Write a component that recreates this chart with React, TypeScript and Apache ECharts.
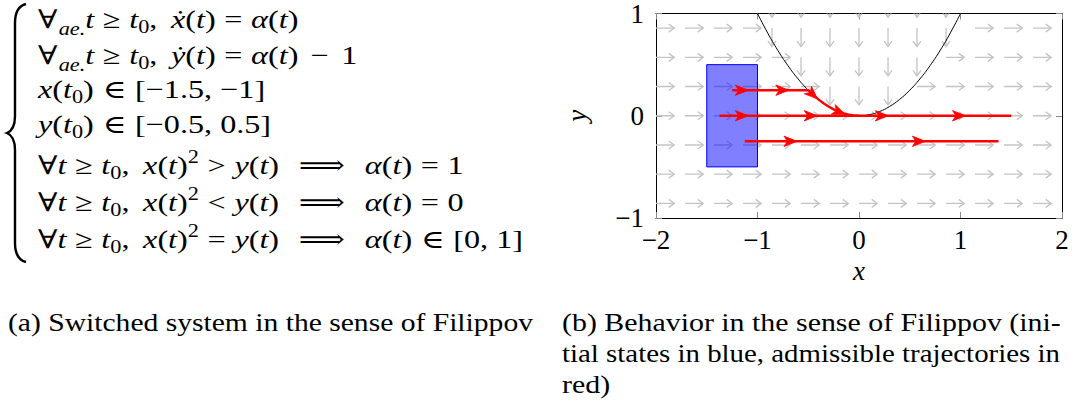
import React, { useEffect, useRef } from "react";
import * as echarts from "echarts";

const FONT = "Liberation Serif, DejaVu Serif, serif";

// ---- plot data ----
const xRange = [-2, 2];
const yRange = [-1, 1];
const fieldColumnX = [-2, -1.714, -1.429, -1.143, -0.857, -0.571, -0.286, 0, 0.286, 0.571, 0.857, 1.143, 1.429, 1.714];
const fieldRowY = [1.143, 0.857, 0.571, 0.286, 0, -0.286, -0.571, -0.857];
const fieldRowDirs = [
  "RRRRDDDDDDDRRR",
  "RRRRDDDDDDDRRR",
  "RRRRRDDDDDRRRR",
  "RRRRRRDDDRRRRR",
  "RRRRRRRRRRRRRR",
  "RRRRRRRRRRRRRR",
  "RRRRRRRRRRRRRR",
  "RRRRRRRRRRRRRR",
];
const fieldArrowLength = 0.18;
const parabolaX = [-1, -0.9, -0.8, -0.7, -0.6, -0.5, -0.4, -0.3, -0.2, -0.1, 0, 0.1, 0.2, 0.3, 0.4, 0.5, 0.6, 0.7, 0.8, 0.9, 1];
const parabolaY = [1, 0.81, 0.64, 0.49, 0.36, 0.25, 0.16, 0.09, 0.04, 0.01, 0, 0.01, 0.04, 0.09, 0.16, 0.25, 0.36, 0.49, 0.64, 0.81, 1];
const initialBox = [-1.5, -0.5, -1, 0.5]; // xmin, ymin, xmax, ymax
const trajSliding = [[-1.25, 0.25], [-0.5, 0.25], [-0.45, 0.2025], [-0.4, 0.16], [-0.35, 0.1225], [-0.3, 0.09], [-0.25, 0.0625], [-0.2, 0.04], [-0.15, 0.0225], [-0.1, 0.01], [-0.05, 0.0025], [0, 0]];
const trajZero = [[-1.375, 0], [1.5, 0]];
const trajLow = [[-1.125, -0.25], [1.375, -0.25]];
// arrow heads: x, y, dx, dy
const redArrowHeads = [
  [-1.16, 0.25, 1, 0], [-0.76, 0.25, 1, 0], [-0.46, 0.2116, 1, -0.92], [-0.2, 0.04, 1, -0.4],
  [-1.16, 0, 1, 0], [-0.48, 0, 1, 0], [0.22, 0, 1, 0], [0.98, 0, 1, 0],
  [-0.68, -0.25, 1, 0], [0.585, -0.25, 1, 0],
];

// ---- text ----
const mathLines: string[][][] = [
  [["r", "∀"], ["sd", "ae."], ["i", "t"], ["rel", "≥"], ["i", "t"], ["s", "0"], ["cm", ","], ["i", "ẋ"], ["r", "("], ["i", "t"], ["r", ")"], ["rel", "="], ["i", "α"], ["r", "("], ["i", "t"], ["r", ")"]],
  [["r", "∀"], ["sd", "ae."], ["i", "t"], ["rel", "≥"], ["i", "t"], ["s", "0"], ["cm", ","], ["i", "ẏ"], ["r", "("], ["i", "t"], ["r", ")"], ["rel", "="], ["i", "α"], ["r", "("], ["i", "t"], ["r", ")"], ["bin", "−"], ["r", "1"]],
  [["i", "x"], ["r", "("], ["i", "t"], ["s", "0"], ["r", ")"], ["rel", "∈"], ["r", "[−1.5, −1]"]],
  [["i", "y"], ["r", "("], ["i", "t"], ["s", "0"], ["r", ")"], ["rel", "∈"], ["r", "[−0.5, 0.5]"]],
  [["r", "∀"], ["i", "t"], ["rel", "≥"], ["i", "t"], ["s", "0"], ["cm", ","], ["i", "x"], ["r", "("], ["i", "t"], ["r", ")"], ["p", "2"], ["rel", ">"], ["i", "y"], ["r", "("], ["i", "t"], ["r", ")"], ["imp", "⟹"], ["i", "α"], ["r", "("], ["i", "t"], ["r", ")"], ["rel", "="], ["r", "1"]],
  [["r", "∀"], ["i", "t"], ["rel", "≥"], ["i", "t"], ["s", "0"], ["cm", ","], ["i", "x"], ["r", "("], ["i", "t"], ["r", ")"], ["p", "2"], ["rel", "<"], ["i", "y"], ["r", "("], ["i", "t"], ["r", ")"], ["imp", "⟹"], ["i", "α"], ["r", "("], ["i", "t"], ["r", ")"], ["rel", "="], ["r", "0"]],
  [["r", "∀"], ["i", "t"], ["rel", "≥"], ["i", "t"], ["s", "0"], ["cm", ","], ["i", "x"], ["r", "("], ["i", "t"], ["r", ")"], ["p", "2"], ["rel", "="], ["i", "y"], ["r", "("], ["i", "t"], ["r", ")"], ["imp", "⟹"], ["i", "α"], ["r", "("], ["i", "t"], ["r", ")"], ["rel", "∈"], ["r", "[0, 1]"]],
];
const mathBaselines = [28, 64, 98, 133, 174, 211, 248];
const captionA = "(a) Switched system in the sense of Filippov";
const captionB = ["(b) Behavior in the sense of Filippov (ini-", "tial states in blue, admissible trajectories in", "red)"];

const BRACE_D = "M19 0 C11 2 8 8 8 19 L8 112 C8 122 5 127 0 129 C5 131 8 136 8 146 L8 239 C8 250 11 256 19 258";

const MS = 26; // math font size
const SS = 18; // script size
const richStyles: any = {
  r: { fontFamily: FONT, fontSize: MS, lineHeight: 40, verticalAlign: "top", padding: [5, 0, 0, 0], color: "#000" },
  i: { fontFamily: FONT, fontSize: MS, fontStyle: "italic", lineHeight: 40, verticalAlign: "top", padding: [5, 0, 0, 0], color: "#000" },
  rel: { fontFamily: FONT, fontSize: MS, lineHeight: 40, verticalAlign: "top", padding: [5, 7, 0, 7], color: "#000" },
  bin: { fontFamily: FONT, fontSize: MS, lineHeight: 40, verticalAlign: "top", padding: [5, 10, 0, 10], color: "#000" },
  imp: { fontFamily: FONT, fontSize: MS, lineHeight: 40, verticalAlign: "top", padding: [5, 16, 0, 16], color: "#000" },
  cm: { fontFamily: FONT, fontSize: MS, lineHeight: 40, verticalAlign: "top", padding: [5, 11, 0, 0], color: "#000" },
  s: { fontFamily: FONT, fontSize: SS, lineHeight: 40, verticalAlign: "top", padding: [17, 0, 0, 0], color: "#000" },
  p: { fontFamily: FONT, fontSize: SS, lineHeight: 40, verticalAlign: "top", padding: [1, 0, 0, 0], color: "#000" },
  sd: { fontFamily: FONT, fontSize: SS, fontStyle: "italic", lineHeight: 40, verticalAlign: "top", padding: [19, 0, 0, 1], color: "#000" },
};

const GREY = "#c4c4c4";

const ctx = typeof document !== "undefined" ? document.createElement("canvas").getContext("2d") : null;
function measure(text: string, font: string) {
  if (!ctx) return 1;
  ctx.font = font;
  return ctx.measureText(text).width;
}
function richWidth(line: string[][]) {
  let w = 0;
  for (const [s, t] of line) {
    const st = richStyles[s];
    const f = `${st.fontStyle === "italic" ? "italic " : ""}${st.fontSize}px ${FONT}`;
    w += measure(t, f) + (st.padding[1] || 0) + (st.padding[3] || 0);
  }
  return w;
}

export default function App() {
  const ref = useRef<HTMLDivElement>(null);
  useEffect(() => {
    if (!ref.current) return;
    echarts.graphic.registerShape("brace", (echarts.graphic as any).extendPath(BRACE_D, {}));
    const chart = echarts.init(ref.current, undefined, { renderer: "svg" });

    const fieldData: number[][] = [];
    fieldRowY.forEach((y, r) => {
      fieldColumnX.forEach((x, c) => {
        fieldData.push([x, y, fieldRowDirs[r][c] === "D" ? 1 : 0]);
      });
    });
    const parabola = parabolaX.map((x, i) => [x, parabolaY[i]]);

    const capFont = `26px ${FONT}`;
    const capAw = measure(captionA, capFont);
    const capB0 = measure(captionB[0], capFont);
    const capB1 = measure(captionB[1], capFont);
    const mathScale = 485 / richWidth(mathLines[6]);

    const graphics: any[] = [
      { type: "brace", x: 7, y: 4, style: { fill: "none", stroke: "#000", lineWidth: 2.4 } },
    ];
    mathLines.forEach((line, k) => {
      graphics.push({
        type: "text",
        x: 38,
        y: mathBaselines[k] - 26.8,
        scaleX: mathScale,
        style: {
          text: line.map(([s, t]) => `{${s}|${t}}`).join(""),
          rich: richStyles,
          align: "left",
          verticalAlign: "top",
          fill: "#000",
        },
      });
    });
    graphics.push({
      type: "text", x: 8, y: 322, scaleX: 525 / capAw,
      style: { text: captionA, font: capFont, fill: "#000", align: "left", verticalAlign: "middle" },
    });
    graphics.push({
      type: "text", x: 562, y: 322, scaleX: 499 / capB0,
      style: { text: captionB[0], font: capFont, fill: "#000", align: "left", verticalAlign: "middle" },
    });
    graphics.push({
      type: "text", x: 562, y: 353, scaleX: 498 / capB1,
      style: { text: captionB[1], font: capFont, fill: "#000", align: "left", verticalAlign: "middle" },
    });
    graphics.push({
      type: "text", x: 562, y: 384, scaleX: 499 / capB0,
      style: { text: captionB[2], font: capFont, fill: "#000", align: "left", verticalAlign: "middle" },
    });

    const minus = (v: number) => (v < 0 ? "\u2212" + Math.abs(v) : String(v));
    const tickStyle = { show: true, inside: true, length: 6, lineStyle: { color: "#8a8a8a", width: 1 } };
    const lineStyle = { show: true, onZero: false, lineStyle: { color: "#000", width: 1 } };
    const labelStyle = { fontFamily: FONT, fontSize: 27, color: "#000" };

    chart.setOption({
      animation: false,
      grid: { left: 656, right: 28, top: 13, bottom: 185, containLabel: false },
      xAxis: [
        {
          type: "value", min: xRange[0], max: xRange[1], interval: 1, position: "bottom",
          axisLine: lineStyle, axisTick: tickStyle, splitLine: { show: false },
          axisLabel: { ...labelStyle, margin: 8, formatter: minus },
          name: "x", nameLocation: "middle", nameGap: 36,
          nameTextStyle: { fontFamily: FONT, fontSize: 27, fontStyle: "italic", color: "#000" },
        },
        {
          type: "value", min: xRange[0], max: xRange[1], interval: 1, position: "top",
          axisLine: lineStyle, axisTick: tickStyle, splitLine: { show: false }, axisLabel: { show: false },
        },
      ],
      yAxis: [
        {
          type: "value", min: yRange[0], max: yRange[1], interval: 1, position: "left",
          axisLine: lineStyle, axisTick: tickStyle, splitLine: { show: false },
          axisLabel: { ...labelStyle, margin: 12, formatter: minus },
          name: "y", nameLocation: "middle", nameGap: 66, nameRotate: 90,
          nameTextStyle: { fontFamily: FONT, fontSize: 27, fontStyle: "italic", color: "#000" },
        },
        {
          type: "value", min: yRange[0], max: yRange[1], interval: 1, position: "right",
          axisLine: lineStyle, axisTick: tickStyle, splitLine: { show: false }, axisLabel: { show: false },
        },
      ],
      graphic: { elements: graphics },
      series: [
        {
          type: "custom", name: "field", coordinateSystem: "cartesian2d", xAxisIndex: 0, yAxisIndex: 0,
          clip: true, silent: true, z: 1, data: fieldData,
          renderItem: (params: any, api: any) => {
            const x = api.value(0), y = api.value(1), d = api.value(2);
            const p0 = api.coord([x, y]);
            const p1 = d === 1 ? api.coord([x, y - fieldArrowLength]) : api.coord([x + fieldArrowLength, y]);
            const dx = p1[0] - p0[0], dy = p1[1] - p0[1];
            const len = Math.hypot(dx, dy);
            const ux = dx / len, uy = dy / len, nx = -uy, ny = ux;
            const h = 5.5, w = 4;
            return {
              type: "group",
              children: [
                { type: "line", shape: { x1: p0[0], y1: p0[1], x2: p1[0] - ux * 0.5, y2: p1[1] - uy * 0.5 }, style: { stroke: GREY, lineWidth: 1.3 } },
                {
                  type: "polyline",
                  shape: { points: [[p1[0] - ux * h + nx * w, p1[1] - uy * h + ny * w], [p1[0], p1[1]], [p1[0] - ux * h - nx * w, p1[1] - uy * h - ny * w]] },
                  style: { stroke: GREY, fill: "none", lineWidth: 1.3 },
                },
              ],
            };
          },
        },
        {
          type: "line", name: "parabola", data: parabola, smooth: true, showSymbol: false, symbol: "none",
          lineStyle: { color: "#000", width: 1 }, clip: true, silent: true, z: 2,
        },
        {
          type: "custom", name: "initial", coordinateSystem: "cartesian2d", silent: true, z: 3,
          data: [initialBox],
          renderItem: (params: any, api: any) => {
            const a = api.coord([api.value(0), api.value(1)]);
            const b = api.coord([api.value(2), api.value(3)]);
            return {
              type: "rect",
              shape: { x: Math.min(a[0], b[0]), y: Math.min(a[1], b[1]), width: Math.abs(b[0] - a[0]), height: Math.abs(b[1] - a[1]) },
              style: { fill: "rgba(0,0,255,0.5)", stroke: "#0000ff", lineWidth: 1 },
            };
          },
        },
        ...[trajSliding, trajZero, trajLow].map((t, i) => ({
          type: "line", name: "traj" + i, data: t, showSymbol: false, symbol: "none",
          lineStyle: { color: "#ff0000", width: 2.4 }, silent: true, z: 4,
        })),
        {
          type: "custom", name: "heads", coordinateSystem: "cartesian2d", silent: true, z: 5,
          data: redArrowHeads,
          renderItem: (params: any, api: any) => {
            const x = api.value(0), y = api.value(1), ddx = api.value(2), ddy = api.value(3);
            const p = api.coord([x, y]);
            const q = api.coord([x + ddx * 0.01, y + ddy * 0.01]);
            const dx = q[0] - p[0], dy = q[1] - p[1];
            const len = Math.hypot(dx, dy);
            const ux = dx / len, uy = dy / len, nx = -uy, ny = ux;
            return {
              type: "polygon",
              shape: {
                points: [
                  [p[0] + ux * 7, p[1] + uy * 7],
                  [p[0] - ux * 6 + nx * 5.2, p[1] - uy * 6 + ny * 5.2],
                  [p[0] - ux * 2.5, p[1] - uy * 2.5],
                  [p[0] - ux * 6 - nx * 5.2, p[1] - uy * 6 - ny * 5.2],
                ],
              },
              style: { fill: "#ff0000", stroke: "#ff0000", lineWidth: 0.8 },
            };
          },
        },
      ],
    });
    return () => chart.dispose();
  }, []);
  return <div ref={ref} style={{ position: "absolute", left: 0, top: 0, width: 1090, height: 403, background: "#fff" }} />;
}
